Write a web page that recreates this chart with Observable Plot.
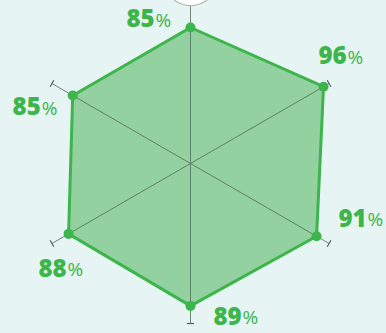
<!DOCTYPE html>
<html>
<head>
<meta charset="utf-8">
<script src="https://cdn.jsdelivr.net/npm/d3@7"></script>
<script src="https://cdn.jsdelivr.net/npm/@observablehq/plot@0.6"></script>
<style>
  html, body { margin: 0; padding: 0; background: #e6f4f3; }
  #chart { width: 386px; height: 333px; overflow: hidden; }
</style>
</head>
<body>
<div id="chart"></div>
<script>
// Data
const axes = ["A", "B", "C", "D", "E", "F"];
const values = [85, 96, 91, 89, 88, 85];
const labels = ["85", "96", "91", "89", "88", "85"];
const maxValue = 100;

const n = axes.length;
const ang = i => (i * 2 * Math.PI) / n; // clockwise from top
const pts = values.map((v, i) => ({ axis: axes[i], v, label: labels[i], x: v * Math.sin(ang(i)), y: v * Math.cos(ang(i)) }));

const spokes = axes.map((a, i) => ({ x1: 0, y1: 0, x2: maxValue * Math.sin(ang(i)), y2: maxValue * Math.cos(ang(i)) }));
const capHalf = 2.3;
const caps = axes.map((a, i) => {
  const ex = maxValue * Math.sin(ang(i)), ey = maxValue * Math.cos(ang(i));
  const tx = Math.cos(ang(i)), ty = -Math.sin(ang(i));
  return { x1: ex - tx * capHalf, y1: ey - ty * capHalf, x2: ex + tx * capHalf, y2: ey + ty * capHalf };
});

const pxPerUnit = 1.6, cx = 190, cy = 163, W = 386, H = 333;

// label placement offsets (pixels, relative to each vertex)
const labelOffsets = [[-36, -8], [23, -30], [50, -17], [51, 11], [-2, 35], [-32, 12]];
const green = "#3cb54a";
const labelMarks = pts.flatMap((p, i) => [
  Plot.text([p], { x: "x", y: "y", text: "label", dx: labelOffsets[i][0], dy: labelOffsets[i][1], textAnchor: "end", fontSize: 24, fontWeight: 800, fontFamily: "Open Sans", fill: green }),
  Plot.text([p], { x: "x", y: "y", text: () => "%", dx: labelOffsets[i][0] + 1, dy: labelOffsets[i][1] + 1, textAnchor: "start", fontSize: 19, fontWeight: 400, fontFamily: "Open Sans", fill: green })
]);

const chart = Plot.plot({
  width: W,
  height: H,
  margin: 0,
  style: { background: "#e6f4f3", overflow: "visible" },
  x: { domain: [-cx / pxPerUnit, (W - cx) / pxPerUnit], axis: null },
  y: { domain: [-(H - cy) / pxPerUnit, cy / pxPerUnit], axis: null },
  marks: [
    Plot.line(pts, { x: "x", y: "y", curve: "linear-closed", fill: "#93d1a0", stroke: "none" }),
    Plot.link(spokes, { x1: "x1", y1: "y1", x2: "x2", y2: "y2", stroke: "#4f6f55", strokeOpacity: 0.8, strokeWidth: 1 }),
    Plot.link(caps, { x1: "x1", y1: "y1", x2: "x2", y2: "y2", stroke: "#5a5a5a", strokeWidth: 1.2 }),
    Plot.line(pts, { x: "x", y: "y", curve: "linear-closed", fill: "none", stroke: green, strokeWidth: 3, strokeLinejoin: "round" }),
    Plot.dot(pts, { x: "x", y: "y", r: 5, fill: green }),
    Plot.dot([{ x: 0, y: 115.6 }], { x: "x", y: "y", r: 27, fill: "#ffffff", stroke: "#b5b5b5", strokeWidth: 1.2 }),
    ...labelMarks
  ]
});
document.getElementById("chart").appendChild(chart);
</script>
</body>
</html>
